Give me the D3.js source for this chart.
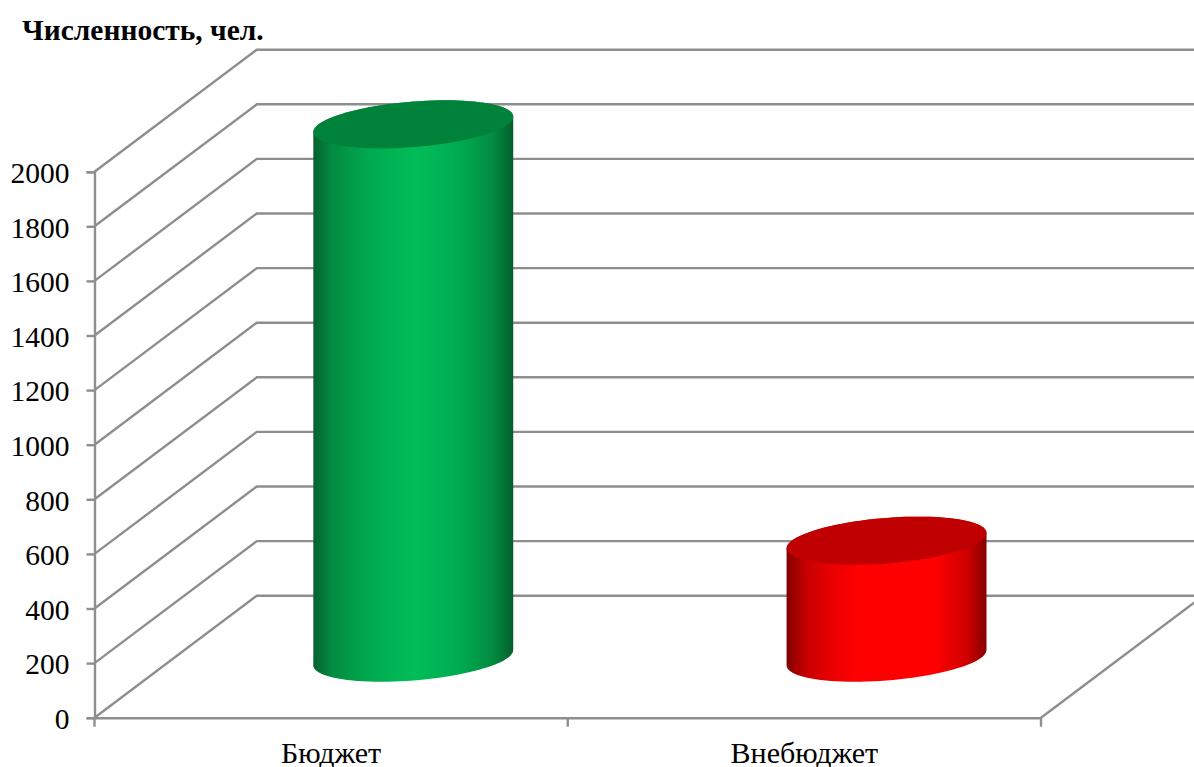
<!DOCTYPE html>
<html><head><meta charset="utf-8">
<script src="https://cdn.jsdelivr.net/npm/d3@7"></script>
<style>
html,body{margin:0;padding:0;background:#fff;overflow:hidden}
svg{display:block}
text{font-family:"Liberation Serif",serif;fill:#000}
</style></head><body>
<svg id="c" width="1194" height="767"></svg>
<script>
const categories = ["Бюджет", "Внебюджет"];
const values = [1950, 425];
const tickValues = [0,200,400,600,800,1000,1200,1400,1600,1800,2000];
const chartTitle = "Численность, чел.";
const bodyStops = [
  [["0%","#04602e"],["9%","#038a40"],["28%","#00aa50"],["52%","#00bd58"],["74%","#00aa50"],["90%","#028a40"],["100%","#025f2c"]],
  [["0%","#800000"],["9%","#c40000"],["22%","#e80000"],["36%","#ff0000"],["74%","#ff0000"],["90%","#d00000"],["100%","#860000"]]
];
const topColors = ["#00823b", "#c00000"];

const W=1194,H=767;
const x0=94.5,x1=1041,yBottom=717.7,yTop=171.7,dx=162.3,dy=-122;
const grey="#8e8e8e", lw=2.4;
const svg=d3.select("#c");
const x=d3.scaleBand().domain(categories).range([x0,x1]);
const y=d3.scaleLinear().domain([0,2000]).range([yBottom,yTop]);

const defs=svg.append("defs");
categories.forEach((c,i)=>{
  const g=defs.append("linearGradient").attr("id","g"+i).attr("x1",0).attr("x2",1).attr("y1",0).attr("y2",0);
  bodyStops[i].forEach(s=>g.append("stop").attr("offset",s[0]).attr("stop-color",s[1]));
});

// diagonals on the side wall and gridlines on the back wall
const walls=svg.append("g").attr("fill","none").attr("stroke",grey).attr("stroke-width",lw);
walls.selectAll("path").data(tickValues).join("path")
  .attr("d",v=>d3.line()([[x0,y(v)],[x0+dx,y(v)+dy],[W+5,y(v)+dy]]));
walls.append("path").attr("d",d3.line()([[x1,yBottom],[x1+dx,yBottom+dy]]));

// axes
const ax=svg.append("g").attr("transform",`translate(${x0},0)`)
  .call(d3.axisLeft(y).tickValues(tickValues).tickFormat(d3.format("d")).tickSize(8).tickPadding(17));
const bx=svg.append("g").attr("transform",`translate(0,${yBottom})`)
  .call(d3.axisBottom(x).tickValues(categories).tickSize(0).tickPadding(22));
bx.selectAll(".tick").attr("transform",d=>`translate(${x(d)+x.bandwidth()/2},0)`);
[ax,bx].forEach(a=>{
  a.attr("font-family",null).attr("font-size",null);
  a.selectAll("path.domain").attr("stroke",grey).attr("stroke-width",lw);
  a.selectAll("line").attr("stroke",grey).attr("stroke-width",lw);
});
ax.selectAll("text").style("font-size","29.5px").attr("dy",null).attr("y",10.8);
bx.selectAll("text").style("font-size","30px").attr("dy",null).attr("y",45);
svg.append("g").attr("fill","none").attr("stroke",grey).attr("stroke-width",lw)
  .selectAll("line").data([x0,x0+x.bandwidth(),x1]).join("line")
  .attr("x1",d=>d).attr("x2",d=>d).attr("y1",yBottom).attr("y2",yBottom+9);

// cylinders
const ratio=0.197, halfW=94.7;
function point(cx,cy,t){
  return [cx+halfW*Math.cos(t)+ratio*dx*Math.sin(t), cy+ratio*dy*Math.sin(t)];
}
const tExt=Math.atan2(ratio*dx,halfW);
const steps=d3.range(0,49).map(i=>i/48);
const line=d3.line();
const bars=svg.append("g").selectAll("g").data(categories).join("g");
bars.each(function(c,i){
  const g=d3.select(this);
  const cx=x(c)+x.bandwidth()/2+dx/2+1;
  const base=y(0)+dy/2+1, top=y(values[i])+dy/2;
  const lower=steps.map(s=>point(cx,base,tExt+Math.PI+s*Math.PI));
  const upper=steps.map(s=>point(cx,top,tExt+s*Math.PI));
  g.append("path").attr("fill",`url(#g${i})`)
    .attr("d",line(upper.concat(lower))+"Z");
  g.append("path").attr("fill",topColors[i])
    .attr("d",line(d3.range(0,97).map(k=>point(cx,top,k/96*2*Math.PI)))+"Z");
});

svg.append("text").attr("x",22).attr("y",40).attr("font-weight","bold").style("font-size","29.5px").text(chartTitle);
</script>
</body></html>
